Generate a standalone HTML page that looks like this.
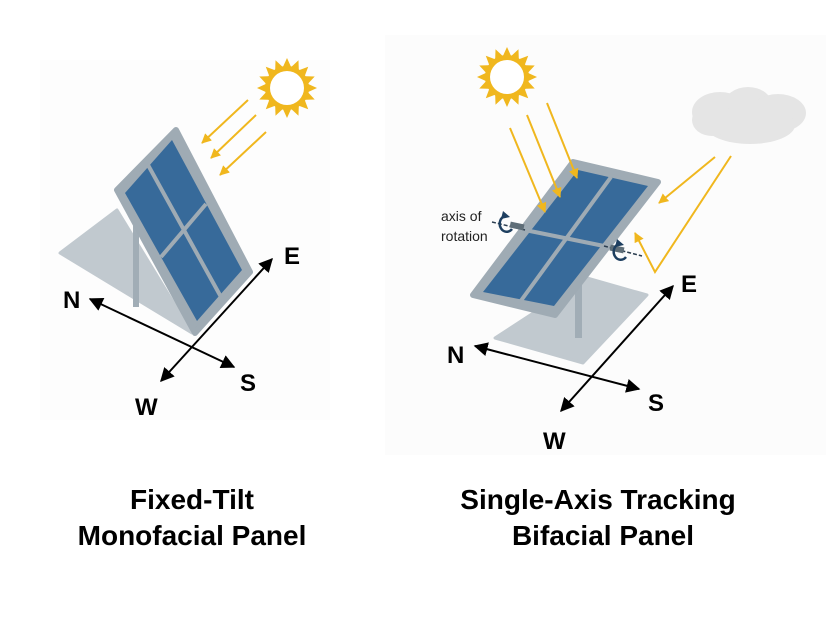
<!DOCTYPE html>
<html><head><meta charset="utf-8"><style>
html,body{margin:0;padding:0;background:#fff;}
svg{display:block;}
text{font-family:"Liberation Sans",sans-serif;}
</style></head><body>
<svg width="826" height="620" viewBox="0 0 826 620" xmlns="http://www.w3.org/2000/svg">
<defs>
<marker id="ay" viewBox="0 0 10 10" refX="9" refY="5" markerWidth="5" markerHeight="5" orient="auto"><path d="M0,0L10,5L0,10z" fill="#f0b71e"/></marker>
<marker id="ak" viewBox="0 0 10 10" refX="9" refY="5" markerWidth="7" markerHeight="7" orient="auto-start-reverse"><path d="M0,0L10,5L0,10z" fill="#000"/></marker>
<polygon id="ray" points="-5,-19 5,-19 0,-30" fill="#f0b71e"/>
<g id="sun">
<circle r="22" fill="#f0b71e"/>
<use href="#ray"/><use href="#ray" transform="rotate(22.5)"/><use href="#ray" transform="rotate(45)"/><use href="#ray" transform="rotate(67.5)"/>
<use href="#ray" transform="rotate(90)"/><use href="#ray" transform="rotate(112.5)"/><use href="#ray" transform="rotate(135)"/><use href="#ray" transform="rotate(157.5)"/>
<use href="#ray" transform="rotate(180)"/><use href="#ray" transform="rotate(202.5)"/><use href="#ray" transform="rotate(225)"/><use href="#ray" transform="rotate(247.5)"/>
<use href="#ray" transform="rotate(270)"/><use href="#ray" transform="rotate(292.5)"/><use href="#ray" transform="rotate(315)"/><use href="#ray" transform="rotate(337.5)"/>
<circle r="17" fill="#fff"/>
</g>
</defs>
<rect x="40" y="60" width="290" height="360" fill="#fdfdfd"/>
<rect x="385" y="35" width="441" height="420" fill="#fcfcfc"/>

<!-- LEFT -->
<polygon points="60,253 117,210 192,333" fill="#c1c9cf" stroke="#c1c9cf" stroke-width="3" stroke-linejoin="round"/>
<rect x="133" y="200" width="6" height="107" fill="#a1adb6"/>
<polygon points="176,130 250,272 195,333 117,190" fill="#9fabb4" stroke="#9fabb4" stroke-width="6" stroke-linejoin="round"/>
<polygon points="172,140 242,270 197,321 125,193" fill="#376a9a"/>
<line x1="148" y1="165" x2="221" y2="297" stroke="#9fabb4" stroke-width="4"/>
<line x1="206" y1="204" x2="161" y2="257" stroke="#9fabb4" stroke-width="4"/>
<use href="#sun" transform="translate(287,88)"/>
<g stroke="#f0b71e" stroke-width="2" marker-end="url(#ay)">
<line x1="248" y1="100" x2="202" y2="143"/>
<line x1="256" y1="115" x2="211" y2="158"/>
<line x1="266" y1="132" x2="220" y2="175"/>
</g>
<g stroke="#000" stroke-width="2" marker-end="url(#ak)" marker-start="url(#ak)">
<line x1="90" y1="299" x2="234" y2="367"/>
<line x1="272" y1="259" x2="161" y2="381"/>
</g>
<g font-weight="bold" font-size="24" fill="#000">
<text x="284" y="264">E</text><text x="63" y="308">N</text><text x="240" y="391">S</text><text x="135" y="415">W</text>
</g>

<!-- RIGHT -->
<polygon points="495,338 587,278 647,295 583,363" fill="#c1c9cf" stroke="#c1c9cf" stroke-width="3" stroke-linejoin="round"/>
<rect x="575" y="278" width="7" height="60" fill="#a1adb6"/>
<polygon points="573,162 658,182 555,315 473,295" fill="#9fabb4" stroke="#9fabb4" stroke-width="6" stroke-linejoin="round"/>
<polygon points="578,170 648,186 554,306 483,292" fill="#376a9a"/>
<line x1="611" y1="177" x2="520" y2="302" stroke="#9fabb4" stroke-width="4"/>
<line x1="525" y1="230" x2="604" y2="246" stroke="#9fabb4" stroke-width="4"/>
<line x1="492" y1="222" x2="525" y2="230" stroke="#2c3e50" stroke-width="1.5" stroke-dasharray="4,2"/>
<line x1="604" y1="246" x2="642" y2="256" stroke="#2c3e50" stroke-width="1.5" stroke-dasharray="4,2"/>
<rect x="510" y="223" width="14" height="6" fill="#5f6e78" transform="rotate(12 517 226)"/>
<rect x="610" y="246" width="14" height="6" fill="#5f6e78" transform="rotate(12 617 249)"/>
<g fill="none" stroke="#1e3f60" stroke-width="2.5">
<path d="M505,216 a7,8 0 1,0 7,13"/>
<path d="M619,244 a7,8 0 1,0 7,13"/>
</g>
<g fill="#1e3f60"><polygon points="503,211 510,217 501,219"/><polygon points="617,239 624,245 615,247"/></g>
<text x="441" y="221" font-size="14" fill="#222">axis of</text>
<text x="441" y="241" font-size="14" fill="#222">rotation</text>
<use href="#sun" transform="translate(507,77)"/>
<g fill="#e5e5e5">
<ellipse cx="720" cy="112" rx="28" ry="20"/><ellipse cx="748" cy="105" rx="24" ry="18"/><ellipse cx="778" cy="113" rx="28" ry="19"/><ellipse cx="750" cy="125" rx="45" ry="19"/><ellipse cx="712" cy="120" rx="20" ry="16"/>
</g>
<g stroke="#f0b71e" stroke-width="2" fill="none" marker-end="url(#ay)">
<line x1="510" y1="128" x2="545" y2="212"/>
<line x1="527" y1="115" x2="560" y2="197"/>
<line x1="547" y1="103" x2="577" y2="178"/>
<line x1="715" y1="157" x2="659" y2="203"/>
<polyline points="731,156 655,272 635,233"/>
</g>
<g stroke="#000" stroke-width="2" marker-end="url(#ak)" marker-start="url(#ak)">
<line x1="475" y1="346" x2="639" y2="389"/>
<line x1="673" y1="286" x2="561" y2="411"/>
</g>
<g font-weight="bold" font-size="24" fill="#000">
<text x="681" y="292">E</text><text x="447" y="363">N</text><text x="648" y="411">S</text><text x="543" y="449">W</text>
</g>

<g font-weight="bold" font-size="28" fill="#000" text-anchor="middle">
<text x="192" y="509">Fixed-Tilt</text>
<text x="192" y="545">Monofacial Panel</text>
<text x="598" y="509">Single-Axis Tracking</text>
<text x="603" y="545">Bifacial Panel</text>
</g>
</svg>
</body></html>
